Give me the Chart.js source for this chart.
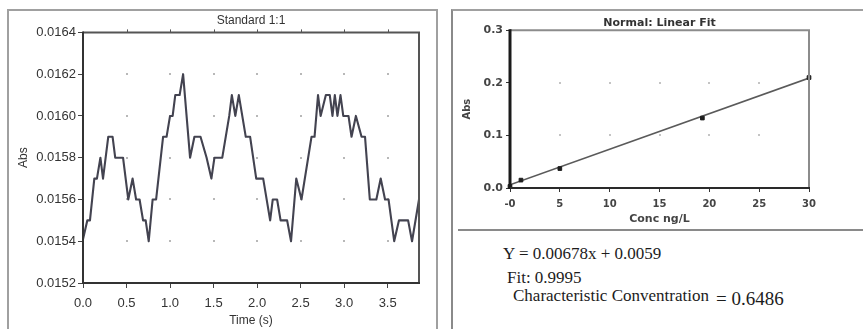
<!DOCTYPE html>
<html><head><meta charset="utf-8">
<script src="https://cdn.jsdelivr.net/npm/chart.js@4.4.1/dist/chart.umd.min.js"></script>
<style>
html,body{margin:0;padding:0;background:#fff;width:863px;height:329px;overflow:hidden;position:relative}
canvas{position:absolute}
#c1{left:0;top:0}
#c2{left:440px;top:0}
.fr{position:absolute;box-sizing:border-box}
.eq{position:absolute;font-family:"Liberation Serif","Times New Roman",serif;color:#1c1c1c;white-space:nowrap;line-height:1}
</style></head><body>
<div class="fr" style="left:7px;top:9px;width:431px;height:330px;border:2px solid #a0a0a0;border-bottom:none"></div>
<div class="fr" style="left:451px;top:9px;width:420px;height:330px;border-left:2px solid #8a8a8a;border-top:2px solid #a0a0a0"></div>
<div class="fr" style="left:458px;top:229px;width:405px;height:2px;background:#8a8a8a"></div>
<canvas id="c1" width="440" height="329"></canvas>
<canvas id="c2" width="423" height="230"></canvas>
<div class="eq" style="left:503px;top:245px;font-size:17px">Y = 0.00678x + 0.0059</div>
<div class="eq" style="left:507px;top:269px;font-size:17px">Fit: 0.9995</div>
<div class="eq" style="left:513px;top:287px;font-size:17px">Characteristic Conventration</div>
<div class="eq" style="left:716px;top:289px;font-size:19px">= 0.6486</div>
<script>
// ---- Left chart: Standard 1:1 ----
const timeS = [0.00,0.05,0.08,0.13,0.16,0.20,0.23,0.29,0.34,0.37,0.46,0.52,0.57,0.61,0.65,0.69,0.72,0.755,0.80,0.84,0.92,0.96,1.00,1.03,1.06,1.11,1.15,1.23,1.28,1.35,1.42,1.475,1.51,1.60,1.68,1.71,1.75,1.79,1.87,1.92,1.99,2.07,2.15,2.18,2.23,2.27,2.345,2.39,2.45,2.51,2.625,2.66,2.70,2.73,2.79,2.835,2.866,2.893,2.923,2.958,2.99,3.05,3.085,3.135,3.20,3.24,3.295,3.37,3.42,3.47,3.51,3.575,3.63,3.735,3.78,3.86];
const absValues = [0.01541,0.0155,0.0155,0.0157,0.0157,0.0158,0.0157,0.0159,0.0159,0.0158,0.0158,0.0156,0.0157,0.0156,0.0156,0.0155,0.0155,0.0154,0.0156,0.0156,0.0159,0.0159,0.0160,0.0160,0.0161,0.0161,0.0162,0.0158,0.0159,0.0159,0.0158,0.0157,0.0158,0.0158,0.0160,0.0161,0.0160,0.0161,0.0159,0.0159,0.0157,0.0157,0.0155,0.0156,0.0156,0.0155,0.0155,0.0154,0.0157,0.0156,0.0159,0.0159,0.0161,0.0160,0.0161,0.0161,0.0160,0.0161,0.0160,0.0161,0.0160,0.0160,0.0159,0.0160,0.0159,0.0159,0.0156,0.0156,0.0157,0.0156,0.0156,0.0154,0.0155,0.0155,0.0154,0.0156];
const xTicks1 = [0,0.5,1,1.5,2,2.5,3,3.5];
const xTickLabels1 = ['0.0','0.5','1.0','1.5','2.0','2.5','3.0','3.5'];
const yTicks1 = [0.0152,0.0154,0.0156,0.0158,0.0160,0.0162,0.0164];
const yTickLabels1 = ['0.0152','0.0154','0.0156','0.0158','0.0160','0.0162','0.0164'];

// ---- Right chart: Normal Linear Fit ----
const calConc = [0, 1.1, 5, 19.3, 30];
const calAbs = [0.003, 0.015, 0.037, 0.133, 0.21];
const fitConc = [0, 30];
const fitAbs = [0.006, 0.209];
const xTicks2 = [0,5,10,15,20,25,30];
const xTickLabels2 = ['-0','5','10','15','20','25','30'];
const yTicks2 = [0,0.1,0.2,0.3];
const yTickLabels2 = ['0.0','0.1','0.2','0.3'];

function framePlugin(o){
  return {
    id:'frame'+o.id,
    beforeDatasetsDraw(chart){
      const {ctx, scales:{x,y}} = chart;
      ctx.save(); ctx.fillStyle = o.dot;
      x.ticks.forEach(tx=>{
        if(tx.value<=x.min||tx.value>=x.max) return;
        const px = Math.round(x.getPixelForValue(tx.value));
        y.ticks.forEach(ty=>{
          if(ty.value<=y.min+1e-9||ty.value>=y.max-1e-9) return;
          const py = Math.round(y.getPixelForValue(ty.value));
          ctx.fillRect(px-1, py-1, 2, 2);
        });
      });
      ctx.restore();
    },
    afterDatasetsDraw(chart){
      const {ctx, chartArea:a, scales:{x}} = chart;
      ctx.save();
      ctx.lineWidth = 2; ctx.strokeStyle = o.box;
      ctx.beginPath();
      ctx.moveTo(a.left, a.top); ctx.lineTo(a.right, a.top); ctx.lineTo(a.right, a.bottom);
      ctx.stroke();
      ctx.lineWidth = o.leftW; ctx.strokeStyle = o.leftC;
      ctx.beginPath(); ctx.moveTo(a.left, a.top-1); ctx.lineTo(a.left, a.bottom+1); ctx.stroke();
      ctx.lineWidth = 2; ctx.strokeStyle = o.bottomC;
      ctx.beginPath(); ctx.moveTo(a.left, a.bottom); ctx.lineTo(a.right+1, a.bottom); ctx.stroke();
      if(o.topTicks){
        ctx.lineWidth = 1; ctx.strokeStyle = o.box;
        x.ticks.forEach(tx=>{
          if(tx.value<=x.min||tx.value>=x.max) return;
          const px = Math.round(x.getPixelForValue(tx.value))+0.5;
          ctx.beginPath(); ctx.moveTo(px, a.top); ctx.lineTo(px, a.top-3); ctx.stroke();
        });
      }
      ctx.restore();
    }
  };
}

const sans = "'Liberation Sans', Arial, sans-serif";
new Chart(document.getElementById('c1'), {
  type:'line',
  data:{datasets:[{
    data: timeS.map((t,i)=>({x:t,y:absValues[i]})),
    borderColor:'#434350', borderWidth:2.1, pointRadius:0, tension:0, clip:4,
    borderJoinStyle:'round', borderCapStyle:'round'
  }]},
  options:{
    responsive:false, animation:false, devicePixelRatio:1,
    layout:{padding:{left:10,top:8,right:21,bottom:0}},
    plugins:{
      legend:{display:false}, tooltip:{enabled:false},
      title:{display:true, text:'Standard 1:1', fullSize:false, color:'#333',
        font:{family:sans, size:12, weight:'normal', lineHeight:1.2}, padding:{top:5,bottom:5}}
    },
    scales:{
      x:{type:'linear', min:0, max:3.86,
        afterBuildTicks:s=>{s.ticks = xTicks1.map(v=>({value:v}));},
        afterFit:s=>{s.height = 46;},
        ticks:{callback:(v,i)=>xTickLabels1[i], padding:8, color:'#333', font:{family:sans,size:13}, maxRotation:0, autoSkip:false},
        grid:{drawOnChartArea:false, tickLength:5, color:'#444', lineWidth:1},
        border:{display:false},
        title:{display:true, text:'Time (s)', color:'#333', font:{family:sans,size:12,lineHeight:1.2}, padding:{top:0,bottom:1}}
      },
      y:{type:'linear', min:0.0152, max:0.0164,
        afterBuildTicks:s=>{s.ticks = yTicks1.map(v=>({value:v}));},
        afterFit:s=>{s.width = 73;},
        ticks:{callback:(v,i)=>yTickLabels1[i], padding:2, color:'#333', font:{family:sans,size:13}, autoSkip:false},
        grid:{drawOnChartArea:false, tickLength:5, color:'#444', lineWidth:1},
        border:{display:false},
        title:{display:true, text:'Abs', color:'#333', font:{family:sans,size:12,lineHeight:1.2}, padding:{top:6,bottom:0}}
      }
    }
  },
  plugins:[framePlugin({id:1, dot:'#b8b8b8', box:'#555', leftC:'#333', leftW:2, bottomC:'#333', topTicks:true})]
});

const dv = "'DejaVu Sans', Verdana, sans-serif";
new Chart(document.getElementById('c2'), {
  type:'scatter',
  data:{datasets:[
    {type:'scatter', data: calConc.map((c,i)=>({x:c,y:calAbs[i]})), pointStyle:'rect', pointRadius:2.6,
      backgroundColor:'#1e1e1e', borderColor:'#1e1e1e', borderWidth:1, order:0, clip:6},
    {type:'line', data: fitConc.map((c,i)=>({x:c,y:fitAbs[i]})), borderColor:'#5a5a5a', borderWidth:1.6,
      pointRadius:0, tension:0, order:1}
  ]},
  options:{
    responsive:false, animation:false, devicePixelRatio:1,
    layout:{padding:{left:15,top:10,right:54,bottom:0}},
    plugins:{
      legend:{display:false}, tooltip:{enabled:false},
      title:{display:true, text:'Normal: Linear Fit', fullSize:false, color:'#333',
        font:{family:dv, size:11, weight:'bold', lineHeight:1.2}, padding:{top:7,bottom:0}}
    },
    scales:{
      x:{type:'linear', min:0, max:30,
        afterBuildTicks:s=>{s.ticks = xTicks2.map(v=>({value:v}));},
        afterFit:s=>{s.height = 42;},
        ticks:{callback:(v,i)=>xTickLabels2[i], padding:6, color:'#444', font:{family:dv,size:10,weight:'bold'}, maxRotation:0, autoSkip:false},
        grid:{drawOnChartArea:false, tickLength:4, color:'#333', lineWidth:1},
        border:{display:false},
        title:{display:true, text:'Conc ng/L', color:'#444', font:{family:dv,size:11,weight:'bold',lineHeight:1.2}, padding:{top:0,bottom:4}}
      },
      y:{type:'linear', min:0, max:0.3,
        afterBuildTicks:s=>{s.ticks = yTicks2.map(v=>({value:v}));},
        afterFit:s=>{s.width = 55;},
        ticks:{callback:(v,i)=>yTickLabels2[i], padding:3, color:'#444', font:{family:dv,size:11,weight:'bold'}, autoSkip:false},
        grid:{drawOnChartArea:false, tickLength:4, color:'#333', lineWidth:1},
        border:{display:false},
        title:{display:true, text:'Abs', color:'#444', font:{family:dv,size:10,weight:'bold',lineHeight:1.2}, padding:{top:6,bottom:0}}
      }
    }
  },
  plugins:[framePlugin({id:2, dot:'#c4c4c4', box:'#8c8c8c', leftC:'#1a1a1a', leftW:3, bottomC:'#2a2a2a', topTicks:false})]
});
</script>
</body></html>
